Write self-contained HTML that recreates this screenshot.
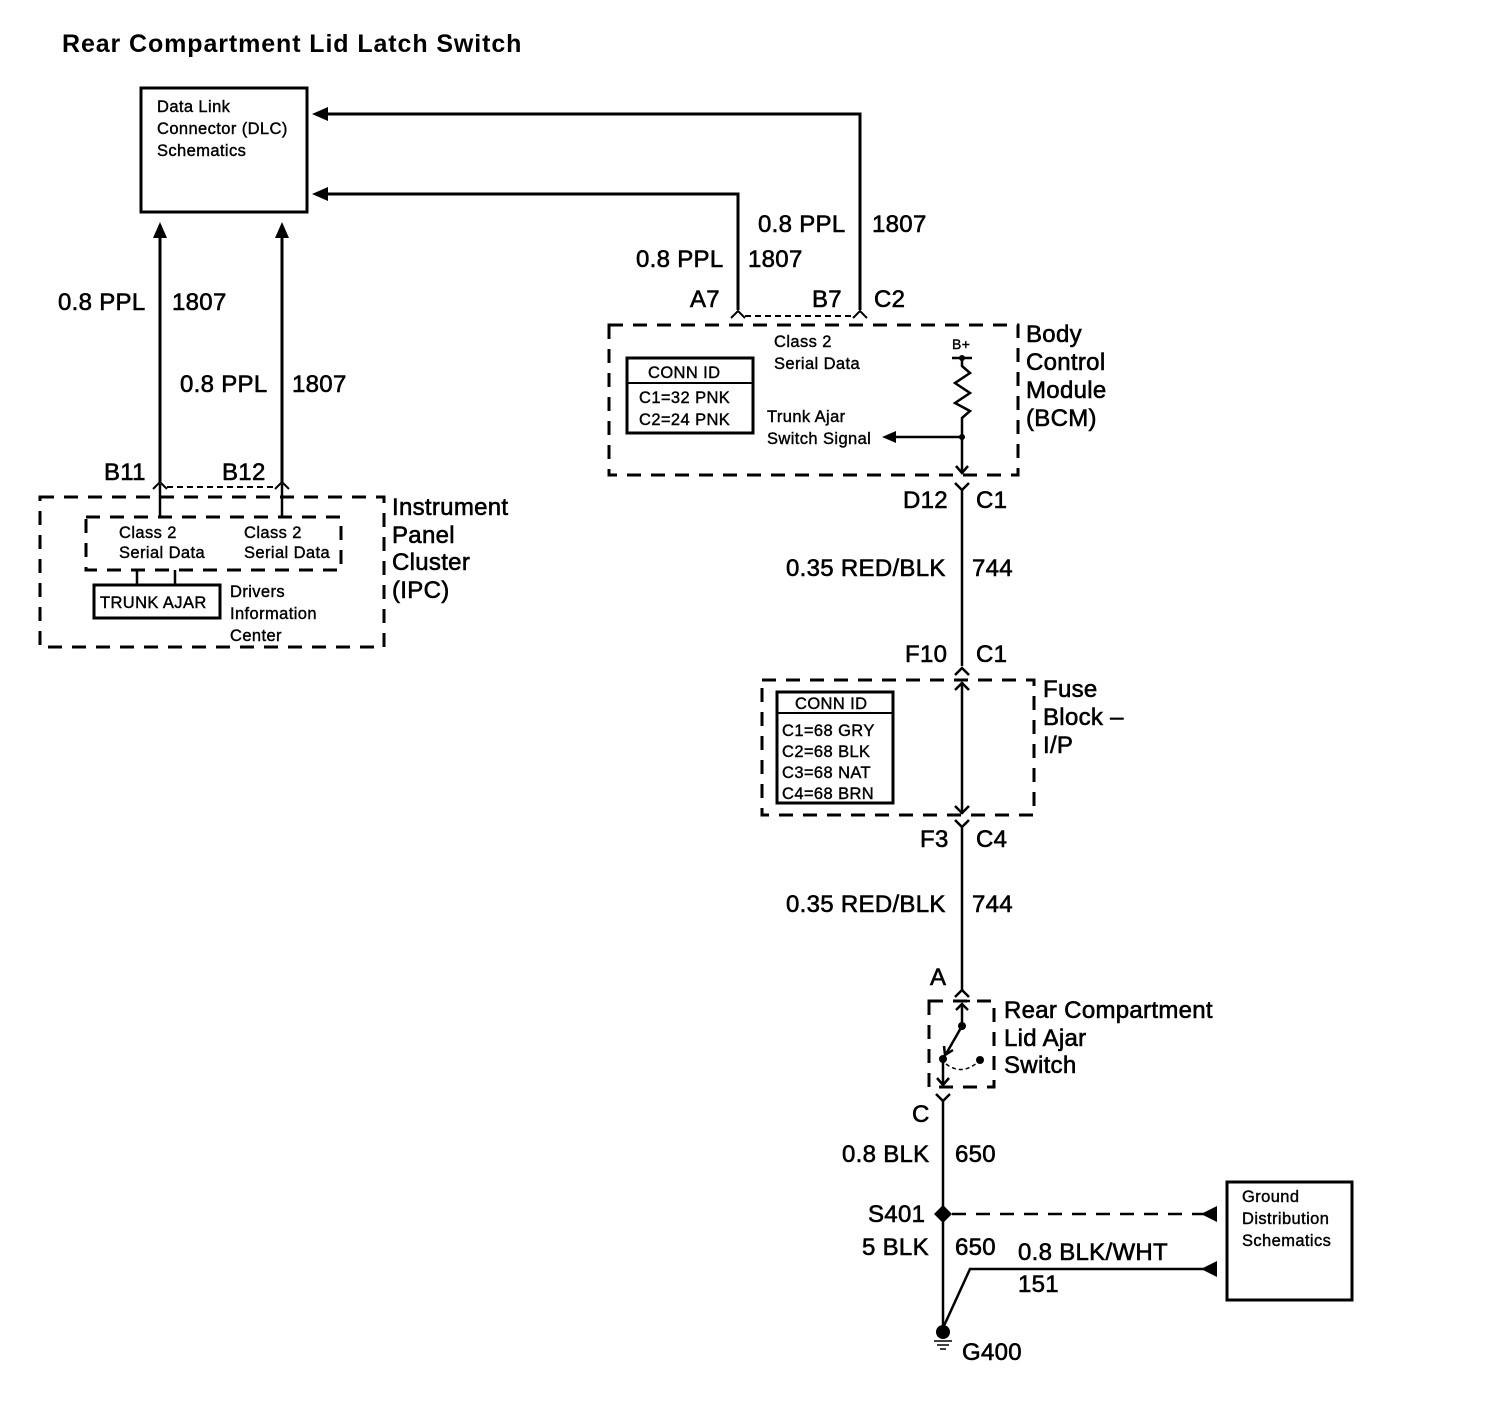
<!DOCTYPE html>
<html><head><meta charset="utf-8"><style>
html,body{margin:0;padding:0;background:#fff}
svg{display:block}
text{font-family:"Liberation Sans",Arial,sans-serif;fill:#000}
.l{font-size:24px;stroke:#000;stroke-width:0.6;letter-spacing:0.3px}
.s{font-size:16.5px;stroke:#000;stroke-width:0.4;letter-spacing:0.4px}
</style></head><body>
<svg width="1486" height="1408" viewBox="0 0 1486 1408" xmlns="http://www.w3.org/2000/svg">
<g fill="none" stroke="#000" stroke-width="3">
<rect x="141" y="88" width="166" height="124"/>
<polyline points="860,310 860,114 322,114"/>
<polyline points="738,310 738,194 322,194"/>
<line x1="160" y1="482" x2="160" y2="236"/>
<line x1="282" y1="482" x2="282" y2="236"/>
</g>
<g fill="#000">
<polygon points="312,114 328,107 328,121"/>
<polygon points="312,194 328,187 328,201"/>
<polygon points="160,222 153,238 167,238"/>
<polygon points="282,222 275,238 289,238"/>
</g>
<text x="62" y="52" style="font-size:25px;font-weight:bold;letter-spacing:0.9px">Rear Compartment Lid Latch Switch</text>
<text class="s" x="157" y="112">Data Link</text>
<text class="s" x="157" y="134">Connector (DLC)</text>
<text class="s" x="157" y="156">Schematics</text>

<text class="l" x="758" y="232">0.8 PPL</text><text class="l" x="872" y="232">1807</text>
<text class="l" x="636" y="267">0.8 PPL</text><text class="l" x="748" y="267">1807</text>
<text class="l" x="690" y="307">A7</text><text class="l" x="812" y="307">B7</text><text class="l" x="874" y="307">C2</text>

<g fill="none" stroke="#000" stroke-width="2">
<polyline points="731,318 738,311 745,318"/>
<polyline points="853,318 860,311 867,318"/>
<line x1="745" y1="316" x2="853" y2="316" stroke-dasharray="6,4"/>
</g>
<rect x="609" y="325" width="409" height="150" fill="none" stroke="#000" stroke-width="3" stroke-dasharray="14,10"/>
<text class="l" x="1026" y="342">Body</text>
<text class="l" x="1026" y="370">Control</text>
<text class="l" x="1026" y="398">Module</text>
<text class="l" x="1026" y="426">(BCM)</text>
<rect x="627" y="358" width="126" height="75" fill="none" stroke="#000" stroke-width="3"/>
<line x1="627" y1="383" x2="753" y2="383" stroke="#000" stroke-width="2"/>
<text class="s" x="648" y="378">CONN ID</text>
<text class="s" x="639" y="403">C1=32 PNK</text>
<text class="s" x="639" y="425">C2=24 PNK</text>
<text class="s" x="774" y="347">Class 2</text>
<text class="s" x="774" y="369">Serial Data</text>
<text class="s" x="952" y="349" style="font-size:14px">B+</text>
<text class="s" x="767" y="422">Trunk Ajar</text>
<text class="s" x="767" y="444">Switch Signal</text>
<g fill="none" stroke="#000" stroke-width="2.5">
<line x1="952" y1="358" x2="972" y2="358"/>
<polyline points="962,358 962,366 970,373 955,383 970,393 955,403 970,411 962,418 962,472"/>
<line x1="962" y1="437" x2="896" y2="437"/>
<polyline points="956,466 962,473 968,466"/>
<polyline points="955,483 962,490 969,483"/>
<line x1="962" y1="490" x2="962" y2="666"/>
</g>
<circle cx="962" cy="358" r="3"/>
<circle cx="962" cy="437" r="3"/>
<polygon points="882,437 896,431 896,443"/>
<text class="l" x="903" y="508">D12</text><text class="l" x="976" y="508">C1</text>
<text class="l" x="786" y="576">0.35 RED/BLK</text><text class="l" x="972" y="576">744</text>
<text class="l" x="905" y="662">F10</text><text class="l" x="976" y="662">C1</text>

<g fill="none" stroke="#000" stroke-width="2.5">
<polyline points="955,675 962,668 969,675"/>
<line x1="962" y1="682" x2="962" y2="814"/>
<polyline points="955,690 962,683 969,690"/>
<polyline points="955,806 962,813 969,806"/>
<polyline points="955,820 962,827 969,820"/>
<line x1="962" y1="827" x2="962" y2="990"/>
</g>
<rect x="762" y="680" width="272" height="135" fill="none" stroke="#000" stroke-width="3" stroke-dasharray="14,10"/>
<rect x="777" y="692" width="116" height="111" fill="none" stroke="#000" stroke-width="3"/>
<line x1="777" y1="713" x2="893" y2="713" stroke="#000" stroke-width="2"/>
<text class="s" x="795" y="709">CONN ID</text>
<text class="s" x="782" y="736">C1=68 GRY</text>
<text class="s" x="782" y="757">C2=68 BLK</text>
<text class="s" x="782" y="778">C3=68 NAT</text>
<text class="s" x="782" y="799">C4=68 BRN</text>
<text class="l" x="1043" y="697">Fuse</text>
<text class="l" x="1043" y="725">Block –</text>
<text class="l" x="1043" y="753">I/P</text>
<text class="l" x="920" y="847">F3</text><text class="l" x="976" y="847">C4</text>
<text class="l" x="786" y="912">0.35 RED/BLK</text><text class="l" x="972" y="912">744</text>
<text class="l" x="930" y="985">A</text>

<g fill="none" stroke="#000" stroke-width="2.5">
<polyline points="955,997 962,990 969,997"/>
<line x1="954" y1="1001" x2="970" y2="1001"/>
<polyline points="956,1010 962,1004 968,1010"/>
<line x1="962" y1="1004" x2="962" y2="1026"/>
<line x1="962" y1="1026" x2="946" y2="1054"/>
<polyline points="944,1046 945,1055 953,1050"/>
<line x1="943" y1="1058" x2="943" y2="1085"/>
<polyline points="937,1078 943,1085 949,1078"/>
<path d="M946,1064 Q962,1076 978,1062" stroke-width="1.5" stroke-dasharray="4,3"/>
<polyline points="936,1094 943,1101 950,1094"/>
<line x1="943" y1="1101" x2="943" y2="1330"/>
</g>
<rect x="929" y="1001" width="65" height="86" fill="none" stroke="#000" stroke-width="3" stroke-dasharray="14,10"/>
<circle cx="962" cy="1026" r="4"/>
<circle cx="943" cy="1059" r="4"/>
<circle cx="980" cy="1060" r="4"/>
<text class="l" x="1004" y="1018">Rear Compartment</text>
<text class="l" x="1004" y="1046">Lid Ajar</text>
<text class="l" x="1004" y="1073">Switch</text>
<text class="l" x="912" y="1122">C</text>
<text class="l" x="842" y="1162">0.8 BLK</text><text class="l" x="955" y="1162">650</text>
<polygon points="943,1205 952,1214 943,1223 934,1214"/>
<text class="l" x="868" y="1222">S401</text>
<line x1="952" y1="1214" x2="1205" y2="1214" stroke="#000" stroke-width="2.5" stroke-dasharray="14,10"/>
<polygon points="1217,1206 1217,1222 1201,1214"/>
<text class="l" x="862" y="1255">5 BLK</text><text class="l" x="955" y="1255">650</text>
<text class="l" x="1018" y="1260">0.8 BLK/WHT</text>
<text class="l" x="1018" y="1292">151</text>
<polyline points="943,1328 970,1269 1205,1269" fill="none" stroke="#000" stroke-width="2.5"/>
<polygon points="1217,1261 1217,1277 1201,1269"/>
<rect x="1227" y="1182" width="125" height="118" fill="none" stroke="#000" stroke-width="3"/>
<text class="s" x="1242" y="1202">Ground</text>
<text class="s" x="1242" y="1224">Distribution</text>
<text class="s" x="1242" y="1246">Schematics</text>
<circle cx="943" cy="1332" r="7"/>
<g stroke="#000" stroke-width="1.5">
<line x1="934" y1="1341" x2="952" y2="1341"/>
<line x1="937" y1="1345" x2="949" y2="1345"/>
<line x1="940" y1="1349" x2="946" y2="1349"/>
</g>
<text class="l" x="962" y="1360">G400</text>

<text class="l" x="58" y="310">0.8 PPL</text><text class="l" x="172" y="310">1807</text>
<text class="l" x="180" y="392">0.8 PPL</text><text class="l" x="292" y="392">1807</text>
<text class="l" x="104" y="480">B11</text><text class="l" x="222" y="480">B12</text>
<g fill="none" stroke="#000" stroke-width="2">
<polyline points="153,489 160,482 167,489"/>
<polyline points="275,489 282,482 289,489"/>
<line x1="167" y1="487" x2="275" y2="487" stroke-dasharray="6,4"/>
<line x1="160" y1="484" x2="160" y2="517" stroke-width="2.5"/>
<line x1="282" y1="484" x2="282" y2="517" stroke-width="2.5"/>
<line x1="137" y1="570" x2="137" y2="585" stroke-width="2.5"/>
<line x1="175" y1="570" x2="175" y2="585" stroke-width="2.5"/>
</g>
<rect x="40" y="497" width="344" height="150" fill="none" stroke="#000" stroke-width="3" stroke-dasharray="14,10"/>
<rect x="86" y="517" width="255" height="53" fill="none" stroke="#000" stroke-width="3" stroke-dasharray="14,10"/>
<text class="s" x="119" y="538">Class 2</text>
<text class="s" x="119" y="558">Serial Data</text>
<text class="s" x="244" y="538">Class 2</text>
<text class="s" x="244" y="558">Serial Data</text>
<rect x="94" y="585" width="126" height="33" fill="none" stroke="#000" stroke-width="3"/>
<text class="s" x="100" y="608">TRUNK AJAR</text>
<text class="s" x="230" y="597">Drivers</text>
<text class="s" x="230" y="619">Information</text>
<text class="s" x="230" y="641">Center</text>
<text class="l" x="392" y="515">Instrument</text>
<text class="l" x="392" y="543">Panel</text>
<text class="l" x="392" y="570">Cluster</text>
<text class="l" x="392" y="598">(IPC)</text>
</svg>
</body></html>
